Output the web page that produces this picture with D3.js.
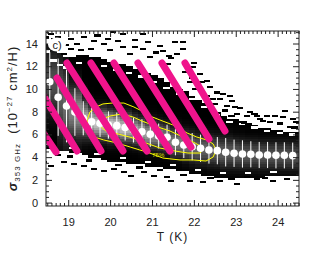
<!DOCTYPE html>
<html><head><meta charset="utf-8">
<script src="https://cdn.jsdelivr.net/npm/d3@7"></script>
<style>
body{margin:0;background:#fff}
svg{display:block}
text{font-family:"Liberation Sans",Arial,Helvetica,sans-serif;fill:#222}
</style>
</head><body>
<svg id="chart" width="327" height="262"></svg>
<script>
// ---------- data ----------
// 2D histogram columns (temperature bin centres, K)
const histT = [18.50,18.65,18.80,18.95,19.10,19.25,19.40,19.55,19.70,19.85,20.00,20.15,20.30,20.45,20.60,20.75,20.90,21.05,21.20,21.35,21.50,21.65,21.80,21.95,22.10,22.25,22.40,22.55,22.70,22.85,23.00,23.15,23.30,23.45,23.60,23.75,23.90,24.05,24.20,24.35,24.50];
// lower / upper edge of the filled region per column (sigma units)
const histLo = [4.85,4.75,4.65,4.55,4.45,4.35,4.20,4.05,3.90,3.75,3.60,3.55,3.50,3.45,3.40,3.33,3.25,3.18,3.12,3.07,3.00,2.85,2.72,2.62,2.52,2.42,2.35,2.28,2.26,2.26,2.26,2.26,2.26,2.26,2.28,2.32,2.36,2.38,2.40,2.42,2.43];
const histHi = [13.9,13.5,13.0,12.6,12.7,12.8,12.8,12.7,12.6,12.45,12.3,12.15,12.0,11.85,11.65,11.45,11.2,11.0,10.8,10.4,10.1,9.9,9.7,9.35,9.0,8.65,8.25,7.95,7.6,7.4,7.28,7.1,6.95,6.8,6.6,6.45,6.35,6.25,6.2,6.15,6.12];
// peak brightness (0 black .. 1 white) of the density ridge per column
const histPeak = [0.30,0.32,0.36,0.42,0.50,0.58,0.66,0.72,0.76,0.80,0.80,0.79,0.77,0.74,0.70,0.66,0.62,0.58,0.55,0.52,0.50,0.48,0.46,0.44,0.42,0.40,0.39,0.38,0.37,0.36,0.36,0.35,0.35,0.34,0.34,0.34,0.33,0.33,0.33,0.32,0.32];
// sparse histogram cells outside the filled region [T, sigma]
const sparseCells = [
 [18.59,14.72],[18.47,14.42],[18.66,14.27],[19.06,14.28],[19.37,14.46],[19.06,13.41],[19.61,14.11],[19.21,13.85],
 [19.54,13.41],[19.85,13.85],[18.90,12.97],[18.80,13.60],[18.95,13.80],[20.07,14.90],[20.31,14.72],[20.78,14.72],
 [20.19,14.11],[20.90,14.02],[20.31,13.58],[21.19,13.67],[21.55,14.02],[21.74,14.02],[21.26,13.23],[21.60,12.97],
 [20.78,13.41],[20.47,12.97],[20.95,12.70],[21.74,13.41],[21.38,12.10],[21.97,11.83],[22.14,11.21],[21.90,10.51],
 [22.31,10.60],[22.02,9.90],[22.38,10.07],[22.31,9.28],[22.45,9.02],[22.62,9.02],[22.86,9.28],[22.79,8.40],
 [22.98,8.31],[22.69,9.46],[22.91,8.84],[23.34,7.88],[23.03,7.70],[23.51,7.52],[23.74,7.52],[23.94,7.52],
 [24.13,7.44],[23.58,7.26],[23.27,7.52],[23.82,7.00],[24.29,6.56],[24.36,7.26],[24.17,7.96],[19.70,14.60],
 [19.95,14.30],[20.60,14.20],[20.00,13.30],[20.60,13.60],[21.10,13.10],[21.45,12.60],[18.75,14.50],[19.30,13.30],
 [22.55,9.60],[22.75,8.00],[23.10,8.20],[23.45,7.70],[23.65,7.05],[24.05,6.85],[24.40,6.50],[23.20,6.95],
 [22.90,7.50],[24.45,7.00],[22.20,10.50],[21.95,10.90],[22.50,8.60],[21.80,11.40],[22.00,12.20],[21.40,12.80],
 [18.42,3.49],[18.59,3.13],[18.90,3.49],[19.14,3.31],[19.37,3.13],[19.61,2.87],[19.85,2.70],[20.09,2.87],
 [20.33,2.61],[20.50,2.26],[20.81,2.61],[21.05,2.26],[21.36,2.17],[21.45,1.82],[21.91,1.82],[22.22,1.73],
 [22.62,1.82],[23.03,1.55],[23.27,2.17],[23.51,1.99],[23.89,1.82],[24.22,1.99],[18.75,4.10],[19.05,3.95],
 [19.50,3.60],[20.20,3.20],[20.70,3.00],[21.20,2.75],[21.75,2.35],[22.40,2.05],[22.90,1.95],[23.70,2.05]
];
// white gaps along the ragged upper edge of the filled region [T, sigma]
const gapCells = [
 [18.50,13.2],[18.65,12.4],[18.80,12.0],[18.95,11.8],[19.25,12.2],[19.55,12.1],[19.85,11.9],[20.15,11.6],
 [20.45,11.3],[20.75,11.0],[21.05,10.5],[21.35,10.0],[21.65,9.5],[21.95,9.0],[22.25,8.3],[22.55,7.6],
 [22.85,7.0],[23.15,6.8],[23.45,6.5],[23.75,6.2],[24.05,6.0],[24.35,5.9],[18.50,5.1],[19.10,4.7],
 [19.70,4.2],[20.30,3.8],[20.90,3.5],[21.50,3.2],[22.10,2.8],[22.70,2.5],[23.30,2.5],[23.90,2.6]
];
// binned median points with dispersion
const medT = [18.56,18.76,18.96,19.16,19.36,19.56,19.76,19.96,20.16,20.36,20.56,20.76,20.96,21.16,21.36,21.56,21.76,21.96,22.16,22.36,22.56,22.76,22.96,23.16,23.36,23.56,23.76,23.96,24.16,24.36];
const medSigma = [10.64,9.27,8.50,7.97,7.42,7.12,6.98,6.83,6.77,6.61,6.39,6.24,6.01,5.86,5.75,5.31,5.07,4.92,4.78,4.63,4.57,4.43,4.34,4.28,4.25,4.19,4.19,4.16,4.16,4.13];
const medErr = [2.6,3.4,3.2,2.1,1.5,1.25,1.2,1.2,1.15,1.15,1.1,1.1,1.1,1.1,1.1,1.15,1.15,1.2,1.2,1.2,1.2,1.25,1.2,1.2,1.15,1.15,1.15,1.15,1.15,1.15];
// magenta hatching stripes [T1, sigma1, T2, sigma2]
const stripes = [
 [18.375,6.30,18.709,4.45],[18.398,9.47,19.210,4.54],[18.733,10.96,19.783,4.54],
 [18.971,12.28,20.308,4.54],[19.544,12.28,20.881,4.54],[20.093,12.28,21.430,4.54],
 [20.666,12.28,21.931,4.89],[21.239,12.28,22.361,5.60],[21.788,12.28,22.743,6.30]
];
// yellow contours [T, sigma]
const contourOuter = [[19.45,7.27],[19.52,7.97],[19.66,8.41],[19.83,8.68],[20.05,8.76],[20.33,8.76],[20.57,8.41],[20.76,8.06],[20.95,7.62],[21.19,7.27],[21.50,6.83],[21.84,6.12],[22.07,5.77],[22.31,5.51],[22.46,5.16],[22.53,4.63],[22.46,4.01],[22.29,3.66],[21.98,3.75],[21.67,3.75],[21.26,3.92],[20.88,4.45],[20.71,4.63],[20.48,4.89],[20.17,5.24],[19.85,5.51],[19.62,5.77],[19.50,6.39],[19.45,7.27]];
const contourInner = [[19.76,7.27],[20.00,7.62],[20.28,7.80],[20.55,7.53],[20.76,7.18],[21.07,6.74],[21.43,6.30],[21.74,5.77],[22.03,5.24],[22.24,4.80],[22.15,4.36],[21.86,4.36],[21.55,4.54],[21.19,4.80],[20.86,5.24],[20.55,5.68],[20.19,6.04],[19.90,6.30],[19.76,6.74],[19.76,7.27]];
const contourLabel = ["75%", 21.15, 4.05];
// axes
const xTicks = [19,20,21,22,23,24];
const yTicks = [0,2,4,6,8,10,12,14];
const xDomain = [18.47,24.51];
const yDomain = [-0.3,15.1];
const panelLabel = "c)";

// ---------- drawing ----------
const svg = d3.select("#chart");
const L=46,R=299,T=31,B=206;
const x = d3.scaleLinear().domain(xDomain).range([L,R]);
const y = d3.scaleLinear().domain(yDomain).range([B,T]);

svg.append("defs").append("clipPath").attr("id","plot")
  .append("rect").attr("x",L).attr("y",T).attr("width",R-L).attr("height",B-T);
const g = svg.append("g").attr("clip-path","url(#plot)");

const colW = 0.15, rowH = 0.2;
function nearestMed(t){
  let bi=0,bd=1e9;
  medT.forEach((m,i)=>{const d=Math.abs(m-t); if(d<bd){bd=d;bi=i;}});
  return bi;
}
const cells=[];
histT.forEach((t,i)=>{
  const mi = nearestMed(t);
  const med = medSigma[mi], w = medErr[mi]*0.7;
  for(let s=Math.round(histLo[i]/rowH)*rowH; s<histHi[i]; s+=rowH){
    const c = s+rowH/2;
    const v = histPeak[i]*Math.exp(-0.5*((c-med)/w)**2);
    cells.push({t,s,v});
  }
});
const cellX = d=>x(d-colW/2), cellW = x(colW)-x(0);
g.append("g").attr("shape-rendering","crispEdges").selectAll("rect").data(cells).join("rect")
  .attr("x",d=>cellX(d.t)).attr("width",cellW+0.5)
  .attr("y",d=>y(d.s+rowH)).attr("height",y(0)-y(rowH)+0.5)
  .attr("fill",d=>{const k=Math.round(255*d.v);return `rgb(${k},${k},${k})`;});

g.append("g").attr("shape-rendering","crispEdges").selectAll("rect").data(gapCells).join("rect")
  .attr("x",d=>cellX(d[0])).attr("width",cellW)
  .attr("y",d=>y(d[1]+rowH)).attr("height",y(0)-y(rowH))
  .attr("fill","#fff");

g.append("g").attr("shape-rendering","crispEdges").selectAll("rect").data(sparseCells).join("rect")
  .attr("x",d=>cellX(d[0])).attr("width",cellW)
  .attr("y",d=>y(d[1]+rowH)).attr("height",y(0)-y(rowH))
  .attr("fill","#000");

// error bars and medians
g.append("g").selectAll("line").data(medT).join("line")
  .attr("x1",d=>x(d)).attr("x2",d=>x(d))
  .attr("y1",(d,i)=>y(medSigma[i]-medErr[i])).attr("y2",(d,i)=>y(medSigma[i]+medErr[i]))
  .attr("stroke","#fff").attr("stroke-width",1);

// contours
const line = d3.line().x(d=>x(d[0])).y(d=>y(d[1]));
[contourOuter,contourInner].forEach(c=>{
  g.append("path").attr("d",line(c)).attr("fill","none").attr("stroke","#ffff00").attr("stroke-width",1);
});
g.append("text").attr("x",x(contourLabel[1])).attr("y",y(contourLabel[2]))
  .attr("font-size",6).style("fill","#e6e600").attr("text-anchor","middle").text(contourLabel[0]);

g.append("g").selectAll("circle").data(medT).join("circle")
  .attr("cx",d=>x(d)).attr("cy",(d,i)=>y(medSigma[i])).attr("r",3.8).attr("fill","#fff");

// stripes
g.append("g").selectAll("line").data(stripes).join("line")
  .attr("x1",d=>x(d[0])).attr("y1",d=>y(d[1])).attr("x2",d=>x(d[2])).attr("y2",d=>y(d[3]))
  .attr("stroke","#f0148c").attr("stroke-width",7).attr("stroke-linecap","round");

// axes
const xMinor = d3.range(185,246).map(v=>v/10).filter(v=>v>=xDomain[0]&&v<=xDomain[1]&&Math.abs(v-Math.round(v))>1e-6);
const yMinor = d3.range(0,31).map(v=>v/2).filter(v=>v%2!==0);
function ax(gen, pos, vals, size, labels){
  const a = gen(pos==="b"||pos==="t"?x:y).tickValues(vals).tickSize(-size).tickSizeOuter(0);
  a.tickFormat(labels ? d3.format("d") : "");
  return a;
}
const fs = 11;
function styleAxis(sel){
  sel.select(".domain").remove();
  sel.selectAll("line").attr("stroke","#222");
  sel.selectAll("text").attr("font-size",fs).style("font-family","'Liberation Sans',Arial,sans-serif").attr("fill","#222");
}
svg.append("g").attr("transform",`translate(0,${B})`).call(ax(d3.axisBottom,"b",xTicks,6,true).tickPadding(12)).call(styleAxis);
svg.append("g").attr("transform",`translate(0,${B})`).call(ax(d3.axisBottom,"b",xMinor,3,false)).call(styleAxis);
svg.append("g").attr("transform",`translate(0,${T})`).call(ax(d3.axisTop,"t",xTicks,6,false)).call(styleAxis);
svg.append("g").attr("transform",`translate(0,${T})`).call(ax(d3.axisTop,"t",xMinor,3,false)).call(styleAxis);
svg.append("g").attr("transform",`translate(${L},0)`).call(ax(d3.axisLeft,"l",yTicks,6,true).tickPadding(8)).call(styleAxis);
svg.append("g").attr("transform",`translate(${L},0)`).call(ax(d3.axisLeft,"l",yMinor,3,false)).call(styleAxis);
svg.append("g").attr("transform",`translate(${R},0)`).call(ax(d3.axisRight,"r",yTicks,6,false)).call(styleAxis);
svg.append("g").attr("transform",`translate(${R},0)`).call(ax(d3.axisRight,"r",yMinor,3,false)).call(styleAxis);
svg.append("rect").attr("x",L).attr("y",T).attr("width",R-L).attr("height",B-T)
  .attr("fill","none").attr("stroke","#222").attr("stroke-width",1);

// panel label
svg.append("ellipse").attr("cx",57).attr("cy",44.5).attr("rx",9).attr("ry",7).attr("fill","#fff");
svg.append("text").attr("x",57).attr("y",48.5).attr("text-anchor","middle").attr("font-size",11).text(panelLabel);

// axis titles
svg.append("text").attr("x",(L+R)/2).attr("y",241).attr("text-anchor","middle").attr("font-size",12)
  .style("letter-spacing","1px").text("T (K)");
const yt = svg.append("text").attr("transform",`translate(17,${(T+B)/2}) rotate(-90)`)
  .attr("text-anchor","middle").attr("font-size",13).style("letter-spacing","1px");
yt.append("tspan").style("font-style","italic").style("font-weight","bold").text("σ");
yt.append("tspan").attr("font-size",8).attr("dy",3).text("353 GHz");
yt.append("tspan").attr("dy",-3).text("\u00a0\u00a0(10");
yt.append("tspan").attr("font-size",8).attr("dy",-5).text("\u221227");
yt.append("tspan").attr("dy",5).text("\u00a0cm");
yt.append("tspan").attr("font-size",8).attr("dy",-5).text("2");
yt.append("tspan").attr("dy",5).text("/H)");
</script>
</body></html>
